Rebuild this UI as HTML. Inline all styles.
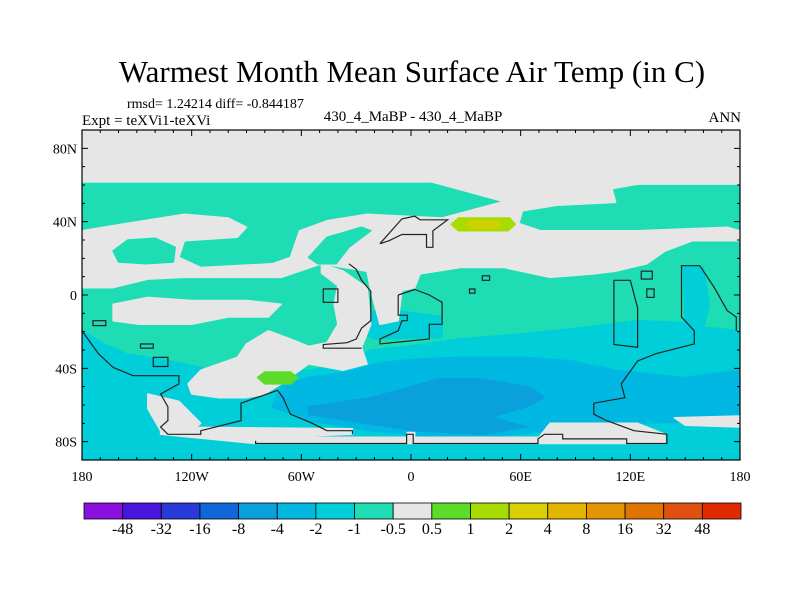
<!DOCTYPE html>
<html><head><meta charset="utf-8"><style>
html,body{margin:0;padding:0;background:#fff;}
svg{display:block;font-family:"Liberation Serif",serif;}
</style></head><body>
<svg id="chart" width="800" height="600" viewBox="0 0 800 600">
<text x="412" y="82" font-size="31" text-anchor="middle">Warmest Month Mean Surface Air Temp (in C)</text>
<text x="127" y="108" font-size="14">rmsd= 1.24214 diff= -0.844187</text>
<text x="82" y="125" font-size="15">Expt = teXVi1-teXVi</text>
<text x="413" y="121" font-size="15" text-anchor="middle">430_4_MaBP - 430_4_MaBP</text>
<text x="741" y="122" font-size="15" text-anchor="end">ANN</text>
<defs><clipPath id="mapclip"><rect x="82" y="130" width="658" height="330"/></clipPath></defs>
<g id="map" clip-path="url(#mapclip)"></g>
<g id="outlines" clip-path="url(#mapclip)"></g>
<g id="axes"></g>
<g id="cbar"></g>
</svg>
<script>
const cbLabels=["-48","-32","-16","-8","-4","-2","-1","-0.5","0.5","1","2","4","8","16","32","48"];
const cbColors=["#8a10e0","#4a14dc","#2a3ad8","#1068d8","#0aa0dc","#00b8e2","#00ced8","#1edcb4","#e6e6e6","#5cdc28","#a8dc00","#d8d000","#e4b400","#e49600","#e07400","#e05010","#e02a00"];
const lonTicks=[-180,-120,-60,0,60,120,180];
const lonTickLabels=["180","120W","60W","0","60E","120E","180"];
const latTicks=[80,40,0,-40,-80];
const latTickLabels=["80N","40N","0","40S","80S"];
const C_TEAL="#1edcb4",C_CYAN="#00ced8",C_BLUE="#00b8e2",C_DBLUE="#0aa0dc",C_GRAY="#e6e6e6";
const tealBase=[[-180,61],[180,61],[180,-90],[-180,-90]];
const cyanSouth=[[-180,-19.5],[-168,-26.7],[-156,-32],[-132,-36],[-107,-41],[-56,-41],[-37,-37.6],[-22,-30],[-2,-28],[27,-24],[63,-21],[100,-17],[124,-14],[149,-15],[161,-17.6],[180,-19.5],[180,-90],[-180,-90]];
const cyanWPac=[[149,15],[160,15],[163,-5],[160,-19],[150,-16]];
const cyanAfr=[[-32,-10],[-10,-8],[17,-12],[17,-23],[-20,-24],[-32,-18]];
const grayCap=[[-180,90],[180,90],[180,60.5],[124,60.5],[110,58],[112,50.5],[80,49],[61,46],[51,49],[49,51.5],[10,62],[-180,62]];
const grayEast=[[-24,44],[17,42],[49,50.5],[61,46],[59,39],[71,35],[124,35],[173,37],[180,35],[180,29.6],[154,29.6],[139,24],[129,17],[112,13],[100,11.5],[76,9.6],[51,15],[27,15],[5,11.5],[2,4],[-5,2.4],[-7,-14],[-17,-16],[-22,2.4],[-24,13]];
const grayNPac=[[-180,35],[-156,39],[-124,44],[-100,42],[-90,37],[-95,31.5],[-124,29.6],[-127,20.5],[-115,15],[-76,17],[-66,20.5],[-61,35],[-46,40.5],[-24,44],[-24,13],[-49,17],[-71,9.6],[-124,9.6],[-144,8.7],[-163,4],[-180,4]];
const grayTrop=[[-163,-5],[-144,-1.3],[-120,-3],[-90,-3],[-71,-5],[-78,-12],[-100,-12],[-120,-16],[-149,-16],[-163,-14]];
const grayAtl=[[-49,17],[-37,13],[-24,4],[-22,-16],[-27,-28.5],[-24,-37.6],[-37,-41],[-56,-37.6],[-71,-48.5],[-80,-54],[-90,-56],[-105,-56],[-120,-54],[-122,-48.5],[-115,-41],[-95,-34],[-90,-26.7],[-78,-19.5],[-66,-24],[-56,-28],[-46,-26],[-40,-16],[-42,-5],[-40,5],[-49,12]];
const grayAnt1=[[-137,-72],[-32,-73],[-32,-76],[-85,-78],[-85,-81],[-137,-76]];
const grayAnt2=[[-85,-77.6],[-2,-77.6],[-2,-75],[2,-75],[2,-77.6],[70,-77.6],[76,-70],[124,-70],[139,-76],[139,-81],[-85,-81]];
const grayAnt3=[[144,-67],[180,-66],[180,-72],[150,-71]];
const grayAnt4=[[-144,-54],[-127,-58],[-115,-70],[-120,-74],[-137,-74],[-144,-62]];
const tealNP=[[-163,24],[-155,30],[-140,31],[-129,26],[-130,18],[-145,17],[-160,18]];
const tealNA=[[-56,20.5],[-46,31.5],[-27,37],[-22,35],[-34,26],[-41,17],[-51,17]];
const blueSO=[[-71,-50],[-56,-45],[-34,-42],[-17,-37],[2,-35],[27,-34],[63,-34],[88,-36],[112,-41],[149,-45],[180,-41],[180,-68.5],[124,-70],[76,-74],[27,-79],[-22,-74],[-56,-68.5],[-76,-61]];
const dblueSO=[[-56,-61],[-22,-56],[15,-45.8],[39,-45.8],[66,-50.5],[73,-56],[63,-61],[44,-66.7],[63,-72],[39,-76],[2,-74],[-34,-68.5],[-56,-65]];
const greenBlob=[[-84,-45],[-80,-42],[-66,-42],[-62,-45],[-66,-48.5],[-80,-48.5]];
const ygBlob=[[22,38.5],[26,42],[54,42],[57,38.5],[53,35],[26,35]];
const yellowBlob=[[30,38.5],[33,40.5],[46,40.5],[49,38.5],[46,36.5],[33,36.5]];
const fills=[[tealBase,C_TEAL],[cyanSouth,C_CYAN],[cyanWPac,C_CYAN],[cyanAfr,C_CYAN],[grayCap,C_GRAY],[grayEast,C_GRAY],[grayNPac,C_GRAY],[grayTrop,C_GRAY],[grayAtl,C_GRAY],[tealNP,C_TEAL],[tealNA,C_TEAL],[blueSO,C_BLUE],[dblueSO,C_DBLUE],[grayAnt1,C_GRAY],[grayAnt2,C_GRAY],[grayAnt3,C_GRAY],[grayAnt4,C_GRAY],[greenBlob,"#5cdc28"],[ygBlob,"#a8dc00"],[yellowBlob,"#cfd000"]];
const coastAnt=[[-85,-79.5],[-85,-81],[-2.4,-81],[-2.4,-76],[1.2,-76],[1.2,-81],[69.5,-81],[69.5,-78.5],[73,-76],[83,-76],[83,-78.5],[118,-78.5],[118,-81],[140,-81],[140,-76],[122,-74],[107,-68.5],[100,-65],[100,-59],[117,-56],[115,-48.5],[124,-36],[134,-32],[155,-26.7],[155,-19.5],[148,-12],[148,16],[158,16],[166,4],[173,-8.5],[178,-12],[178,-19.5]];
const coastSW=[[-180,-19.5],[-171,-32],[-163,-39.5],[-152,-44],[-127,-44],[-127,-48.5],[-137,-54],[-133,-61],[-133,-68.5],[-137,-72],[-133,-76],[-115,-76],[-115,-74],[-93,-68.5],[-93,-59],[-73,-52],[-70,-56],[-66,-65],[-54,-70],[-46,-74],[-32,-74],[-32,-76]];
const coastAfr=[[-7,0],[2,3],[10,0],[17,-4],[17,-16],[10,-16],[10,-24],[-17,-26.7],[-17,-24],[-7,-19.5],[-5,-14],[-2,-14],[-2,-11],[-7,-11],[-7,0]];
const coastMed=[[-17,28],[-5,41.5],[2,43],[5,41],[20,41],[12,35],[12,26],[8.5,26],[8.5,33],[-5,33],[-12,29.6],[-17,28]];
const coastSAm=[[-34,17],[-30,14],[-27,8],[-22,2],[-22,-14],[-27,-18],[-30,-24],[-35,-26],[-48,-27],[-48,-29],[-27,-29]];
const coastAus=[[111,8],[111,-27],[124,-28.5],[124,-7],[120,8],[111,8]];
const coastBoxes=[[[39,10.5],[43,8]],[[32,3.3],[35,1]],[[129,3.3],[133,-1.3]],[[126,13],[132,8.7]],[[-148,-26.7],[-141,-29]],[[-141,-34],[-133,-39]],[[-174,-14],[-167,-16.7]],[[-48,3.3],[-40,-4]]];
const lines=[coastAnt,coastSW,coastAfr,coastMed,coastSAm,coastAus];

const X0=82,X1=740,Y0=130,Y1=460;
const xS=lon=>X0+(lon+180)/360*(X1-X0);
const yS=lat=>Y0+(90-lat)/180*(Y1-Y0);
const NS="http://www.w3.org/2000/svg";
function mk(tag,attrs,parent){const e=document.createElementNS(NS,tag);for(const k in attrs)e.setAttribute(k,attrs[k]);parent.appendChild(e);return e;}
const map=document.getElementById('map');
fills.forEach((f,i)=>{
  const p=mk('path',{d:'M'+f[0].map(q=>xS(q[0]).toFixed(1)+','+yS(q[1]).toFixed(1)).join('L')+'Z',fill:f[1],stroke:f[1],'stroke-width':'1.5','stroke-linejoin':'round'},map);
  
  
});
const ol=document.getElementById('outlines');
lines.forEach((l,i)=>{
  const p=mk('path',{d:'M'+l.map(q=>xS(q[0]).toFixed(1)+','+yS(q[1]).toFixed(1)).join('L'),fill:'none',stroke:'#222','stroke-width':'1.2'},ol);
  
  
});
coastBoxes.forEach((b,i)=>{
  const r=mk('rect',{x:xS(b[0][0]),y:yS(b[0][1]),width:xS(b[1][0])-xS(b[0][0]),height:yS(b[1][1])-yS(b[0][1]),fill:'none',stroke:'#222','stroke-width':'1.2'},ol);
  
  
});
const ax=document.getElementById('axes');
const fr=mk('rect',{x:X0,y:Y0,width:X1-X0,height:Y1-Y0,fill:'none',stroke:'#000','stroke-width':'1.2'},ax);


let td='';
for(let lon=-180;lon<=180;lon+=10){const x=xS(lon),L=(lon%60===0)?6:3;td+=`M${x},${Y0}v${L}M${x},${Y1}v${-L}`;}
for(let lat=-90;lat<=90;lat+=10){const y=yS(lat),L=(lat%40===0)?6:3;td+=`M${X0},${y}h${L}M${X1},${y}h${-L}`;}
const tk=mk('path',{d:td,stroke:'#000','stroke-width':'1',fill:'none'},ax);


lonTicks.forEach((v,i)=>{const t=mk('text',{x:xS(v),y:481,'font-size':'14','text-anchor':'middle'},ax);t.textContent=lonTickLabels[i];
  
  });
latTicks.forEach((v,i)=>{const t=mk('text',{x:77,y:yS(v)+5,'font-size':'14','text-anchor':'end'},ax);t.textContent=latTickLabels[i];
  
  });
const cb=document.getElementById('cbar');
const CX0=84,CX1=741,CY=503,CH=16,bw=(CX1-CX0)/cbColors.length;
cbColors.forEach((c,i)=>{const r=mk('rect',{x:CX0+i*bw,y:CY,width:bw,height:CH,fill:c,stroke:'#000','stroke-width':'0.8'},cb);
  
  });
cbLabels.forEach((l,i)=>{const t=mk('text',{x:CX0+(i+1)*bw,y:534,'font-size':'16','text-anchor':'middle'},cb);t.textContent=l;
  
  });
</script>
</body></html>
